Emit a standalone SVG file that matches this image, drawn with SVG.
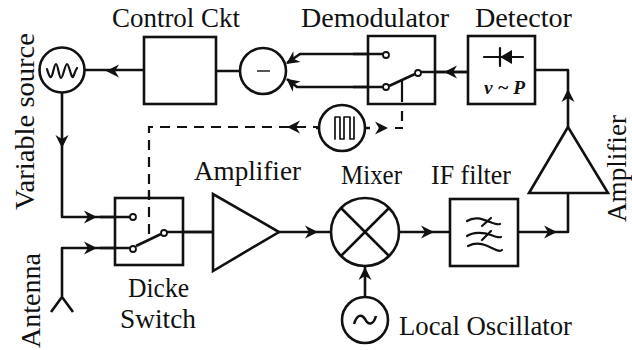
<svg xmlns="http://www.w3.org/2000/svg" width="632" height="350" viewBox="0 0 632 350">
<style>
text{font-family:"Liberation Serif","DejaVu Serif",serif;font-size:27px;fill:#111}
.s{fill:none;stroke:#111;stroke-width:2.6;stroke-linejoin:round}
.b{fill:#fff;stroke:#111;stroke-width:2.6}
.t{fill:none;stroke:#111;stroke-width:2.200;stroke-linejoin:round;stroke-linecap:round}
.c{fill:#fff;stroke:#111;stroke-width:1.8}
.d{fill:none;stroke:#111;stroke-width:2.2;stroke-dasharray:10 7}
.a{fill:#111}
</style>
<defs>
<path id="ar" class="a" d="M7 0L-6-6.500L-2.500-.8V.8L-6 6.500Z"/>
</defs>
<rect width="632" height="350" fill="#fff"/>
<g id="connectors">
<path class="s" d="M62 92V217H133M62 297V248H133M51 312L62 297L73 312M84 70H144M216 71H240M287 63L300 54H386M287 79L297 87H386M418 72H468M535 70H568V127M568 193V232H518M183 232H213M279 232H331M399 232H450M365 297V266"/>
<path class="d" d="M149 235V127H318"/>
<path class="s" style="stroke-width:2.200" d="M395 128H403M402 121V111"/>
<use href="#ar" transform="translate(113 71) rotate(180)"/>
<use href="#ar" transform="translate(62 141) rotate(90)"/>
<use href="#ar" transform="translate(90 217)"/>
<use href="#ar" transform="translate(90 248)"/>
<use href="#ar" transform="translate(294 127) rotate(180)"/>
<use href="#ar" transform="translate(381 128)"/>
<use href="#ar" transform="translate(568 96) rotate(-90)"/>
<use href="#ar" transform="translate(550 232)"/>
<use href="#ar" transform="translate(427 232)"/>
<use href="#ar" transform="translate(311 232)"/>
<use href="#ar" transform="translate(365 274) rotate(-90)"/>
</g>
<g id="variable-source">
<circle class="b" cx="62" cy="70" r="22.500"/>
<path class="t" d="M47 69C48 73 50 78 51 77C53 76 54 64 56 64C58 64 59 78 61 78C63 78 65 64 67 64C69 64 71 78 73 77C74 76 75 71 77 68"/>
<text transform="translate(34 210) rotate(-90)" textLength="177" lengthAdjust="spacingAndGlyphs">Variable source</text>
</g>
<g id="control-ckt">
<rect class="b" x="144" y="37" width="72" height="67"/>
<text x="112" y="27" textLength="128" lengthAdjust="spacingAndGlyphs">Control Ckt</text>
</g>
<g id="subtractor">
<circle class="b" cx="263" cy="71" r="23"/>
<path d="M257 71H270" stroke="#444" stroke-width="1.800"/>
<use href="#ar" transform="translate(292 60) rotate(146)"/>
<use href="#ar" transform="translate(292 83) rotate(-142)"/>
</g>
<g id="demodulator">
<path class="b" d="M368 36H435V104H368Z"/>
<path class="s" d="M353 54H386M353 87H386M418 72H468"/>
<path class="s" d="M389 86L415 74"/>
<path class="s" d="M402 80V102" style="stroke-width:2.200"/>
<circle class="c" cx="386" cy="55" r="3"/>
<circle class="c" cx="386" cy="87" r="3"/>
<circle class="c" cx="418" cy="73" r="3"/>
<text x="301" y="27" textLength="148" lengthAdjust="spacingAndGlyphs">Demodulator</text>
<use href="#ar" transform="translate(451 72) rotate(180)"/>
</g>
<g id="detector">
<rect class="b" x="468" y="36" width="67" height="68"/>
<path class="t" d="M484 57H523M500 48V66"/>
<path class="a" d="M500 57L512 50V64Z"/>
<text x="484" y="94" textLength="41" lengthAdjust="spacingAndGlyphs" style="font-size:19px;font-weight:bold;font-style:italic">v ~ P</text>
<text x="475" y="27" textLength="97" lengthAdjust="spacingAndGlyphs">Detector</text>
</g>
<g id="pulse-generator">
<path class="s" d="M316 128H370"/>
<circle class="b" cx="342" cy="128" r="23"/>
<path class="t" d="M335 139V117H340V139H344V117H350V139H354V117" style="stroke-width:1.700"/>
</g>
<g id="dicke-switch">
<rect class="b" x="115" y="198" width="68" height="67"/>
<path class="s" d="M100 217H133M100 248H133M164 232H213"/>
<path class="d" d="M149 190V236" stroke-dasharray="10 7"/>
<path class="s" d="M136 246L161 234"/>
<circle class="c" cx="133" cy="249" r="3"/>
<circle class="c" cx="133" cy="217" r="3"/>
<circle class="c" cx="164" cy="233" r="3"/>
<text x="128" y="297" textLength="61" lengthAdjust="spacingAndGlyphs">Dicke</text>
<text x="120" y="328" textLength="76" lengthAdjust="spacingAndGlyphs">Switch</text>
</g>
<g id="antenna">
<text transform="translate(40 348) rotate(-90)" textLength="95" lengthAdjust="spacingAndGlyphs">Antenna</text>
</g>
<g id="amplifier-1">
<path class="b" d="M213 194V271L279 232Z"/>
<text x="194" y="180" textLength="107" lengthAdjust="spacingAndGlyphs">Amplifier</text>
</g>
<g id="mixer">
<circle class="b" cx="365" cy="232" r="34"/>
<path class="s" d="M341 208L389 256M389 208L341 256"/>
<text x="341" y="184" textLength="61" lengthAdjust="spacingAndGlyphs">Mixer</text>
</g>
<g id="if-filter">
<rect class="b" x="450" y="199" width="68" height="67"/>
<path class="t" d="M467 221C475 216 482 219 490 222C495 224 498 225 500 224"/>
<path class="t" d="M467 236C473 232 483 232 491 235C496 237 499 238 501 237"/>
<path class="t" d="M468 246C478 241 486 245 494 249C498 251 501 251 502 250"/>
<path class="t" d="M482 226L491 218M482 240L491 231"/>
<text x="431" y="184" textLength="80" lengthAdjust="spacingAndGlyphs">IF filter</text>
</g>
<g id="amplifier-2">
<path class="b" d="M568 127L529 193H608Z"/>
<text transform="translate(626 222) rotate(-90)" textLength="107" lengthAdjust="spacingAndGlyphs">Amplifier</text>
</g>
<g id="local-oscillator">
<circle class="b" cx="365" cy="320" r="23"/>
<path class="s" d="M354 324C357 314 362 314 365 319C368 325 373 326 376 316"/>
<text x="399" y="335" textLength="173" lengthAdjust="spacingAndGlyphs">Local Oscillator</text>
</g>
</svg>
